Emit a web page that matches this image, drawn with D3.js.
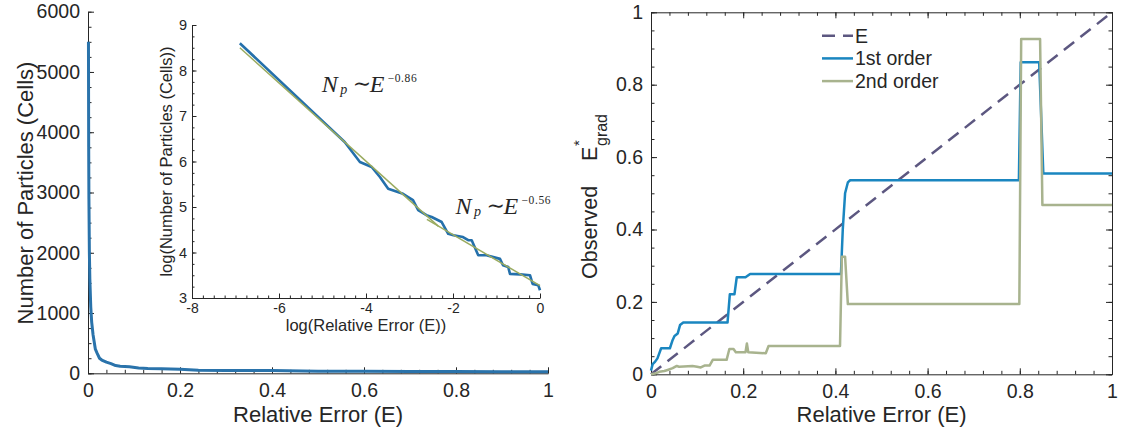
<!DOCTYPE html>
<html>
<head>
<meta charset="utf-8">
<script src="https://cdn.jsdelivr.net/npm/d3@7"></script>
<style>
  html, body { margin: 0; padding: 0; background: #fff; }
  svg { display: block; font-family: "Liberation Sans", Arial, Helvetica, sans-serif; }
  text { fill: #262626; }
</style>
</head>
<body>
<svg id="chart" width="1122" height="432"></svg>
<script>
// ---------------- DATA ----------------
// Left main panel: number of particles vs relative error
const mainE = [0.001, 0.0015, 0.002, 0.003, 0.004, 0.006, 0.008, 0.011, 0.016, 0.02, 0.025, 0.03, 0.04, 0.05, 0.06, 0.07, 0.09, 0.11, 0.13, 0.16, 0.2, 0.24, 0.3, 0.4, 0.5, 0.6, 0.7, 0.8, 0.9, 1.0];
const mainN = [5500, 3750, 2900, 2000, 1570, 1100, 850, 640, 400, 330, 250, 220, 185, 160, 128, 118, 108, 88, 80, 74, 67, 50, 47, 45, 35, 33, 30, 28, 27, 24];
const mainXTicks = [0, 0.2, 0.4, 0.6, 0.8, 1];
const mainYTicks = [0, 1000, 2000, 3000, 4000, 5000, 6000];

// Inset: log-log
const insetLogE = [-6.90, -4.49, -4.14, -3.87, -3.68, -3.49, -3.15, -2.92, -2.80, -2.61, -2.49, -2.26, -2.11, -1.99, -1.77, -1.65, -1.57, -1.42, -1.23, -0.92, -0.85, -0.73, -0.69, -0.46, -0.23, -0.17, -0.04, 0.0];
const insetLogN = [8.60, 6.43, 5.99, 5.88, 5.66, 5.40, 5.29, 5.15, 4.93, 4.82, 4.78, 4.67, 4.41, 4.38, 4.34, 4.27, 4.27, 3.94, 3.94, 3.86, 3.72, 3.68, 3.53, 3.52, 3.50, 3.31, 3.28, 3.17];
const fit1LogE = [-6.90, -2.34];
const fit1LogN = [8.50, 4.58];
const fit2LogE = [-2.60, 0.0];
const fit2LogN = [4.73, 3.27];
const insetXTicks = [-8, -6, -4, -2, 0];
const insetYTicks = [3, 4, 5, 6, 7, 8, 9];

// Right panel: observed gradient error
const refE = [0, 1];
const refV = [0, 1];
const firstE = [0, 0.0036, 0.009, 0.014, 0.022, 0.041, 0.047, 0.051, 0.058, 0.063, 0.07, 0.166, 0.171, 0.181, 0.186, 0.205, 0.215, 0.412, 0.416, 0.421, 0.427, 0.432, 0.798, 0.802, 0.842, 0.851, 1.0];
const firstV = [0.01, 0.028, 0.035, 0.044, 0.072, 0.072, 0.095, 0.106, 0.113, 0.136, 0.143, 0.143, 0.221, 0.221, 0.268, 0.268, 0.277, 0.277, 0.40, 0.50, 0.53, 0.536, 0.536, 0.862, 0.862, 0.555, 0.555];
const secondE = [0, 0.011, 0.018, 0.029, 0.036, 0.047, 0.056, 0.061, 0.09, 0.1, 0.108, 0.116, 0.127, 0.134, 0.164, 0.17, 0.179, 0.184, 0.205, 0.208, 0.211, 0.249, 0.255, 0.41, 0.414, 0.421, 0.427, 0.799, 0.803, 0.844, 0.849, 1.0];
const secondV = [0, 0.003, 0.007, 0.009, 0.012, 0.017, 0.023, 0.021, 0.023, 0.021, 0.019, 0.024, 0.024, 0.04, 0.04, 0.07, 0.07, 0.061, 0.061, 0.085, 0.061, 0.058, 0.078, 0.078, 0.325, 0.325, 0.194, 0.194, 0.926, 0.926, 0.468, 0.468];
const rightXTicks = [0, 0.2, 0.4, 0.6, 0.8, 1];
const rightYTicks = [0, 0.2, 0.4, 0.6, 0.8, 1];
const legendLabels = ["E", "1st order", "2nd order"];

// ---------------- HELPERS ----------------
const svg = d3.select("#chart");
const AX = "#262626";
const SANS = '"Liberation Sans", Arial, Helvetica, sans-serif';
const SERIF = '"Liberation Serif", "Times New Roman", "DejaVu Serif", serif';
const zip = (a, b) => a.map((v, i) => [v, b[i]]);
function range(a, b, s) { const out = []; for (let v = a; v <= b + 1e-9; v += s) out.push(+v.toFixed(6)); return out; }
function fmt(d) { return String(d); }

function styleAxis(g, fs) {
  g.select(".domain").attr("stroke", AX).attr("stroke-width", 1);
  g.selectAll(".tick line").attr("stroke", AX).attr("stroke-width", 1);
  g.selectAll(".tick text").style("font-size", fs + "px").style("font-family", SANS).attr("fill", AX);
}
function minor(g) {
  g.select(".domain").remove();
  g.selectAll(".tick line").attr("stroke", AX).attr("stroke-width", 1);
}
function label(sel, fs) { return sel.style("font-size", fs + "px").style("font-family", SANS); }

// ---------------- LEFT MAIN ----------------
const lx = d3.scaleLinear().domain([0, 1]).range([88, 548]);
const ly = d3.scaleLinear().domain([0, 6000]).range([373.3, 11.7]);

svg.append("g").attr("transform", "translate(0,373.3)")
  .call(d3.axisBottom(lx).tickValues(range(0, 1, 0.04)).tickSize(-3.5).tickFormat(""))
  .call(minor);
svg.append("g").attr("transform", "translate(88,0)")
  .call(d3.axisLeft(ly).tickValues(range(0, 6000, 250)).tickSize(-3.5).tickFormat(""))
  .call(minor);
svg.append("g").attr("transform", "translate(0,373.3)")
  .call(d3.axisBottom(lx).tickValues(mainXTicks).tickFormat(fmt).tickSizeInner(-6).tickSizeOuter(0).tickPadding(10))
  .call(g => styleAxis(g, 19.5));
svg.append("g").attr("transform", "translate(88,0)")
  .call(d3.axisLeft(ly).tickValues(mainYTicks).tickFormat(fmt).tickSizeInner(-6).tickSizeOuter(0).tickPadding(8))
  .call(g => styleAxis(g, 19.5));

svg.append("path").datum(zip(mainE, mainN))
  .attr("fill", "none").attr("stroke", "#2a73ab").attr("stroke-width", 3)
  .attr("stroke-linejoin", "round")
  .attr("d", d3.line().x(d => lx(d[0])).y(d => ly(d[1])));

label(svg.append("text").attr("x", 318).attr("y", 422).attr("text-anchor", "middle"), 22).text("Relative Error (E)");
label(svg.append("text").attr("transform", "translate(33,193) rotate(-90)").attr("text-anchor", "middle"), 22)
  .text("Number of Particles (Cells)");

// ---------------- INSET ----------------
const ix = d3.scaleLinear().domain([-8, 0]).range([192, 540]);
const iy = d3.scaleLinear().domain([3, 9]).range([298, 25]);

svg.append("g").attr("transform", "translate(0,298)")
  .call(d3.axisBottom(ix).tickValues(range(-8, 0, 0.25)).tickSize(-2.5).tickFormat(""))
  .call(minor);
svg.append("g").attr("transform", "translate(192,0)")
  .call(d3.axisLeft(iy).tickValues(range(3, 9, 0.25)).tickSize(-2.5).tickFormat(""))
  .call(minor);
svg.append("g").attr("transform", "translate(0,298)")
  .call(d3.axisBottom(ix).tickValues(insetXTicks).tickFormat(fmt).tickSizeInner(-4.5).tickSizeOuter(0).tickPadding(5))
  .call(g => styleAxis(g, 14));
svg.append("g").attr("transform", "translate(192,0)")
  .call(d3.axisLeft(iy).tickValues(insetYTicks).tickFormat(fmt).tickSizeInner(-4.5).tickSizeOuter(0).tickPadding(5))
  .call(g => styleAxis(g, 14.5));

const iline = d3.line().x(d => ix(d[0])).y(d => iy(d[1]));
svg.append("path").datum(zip(insetLogE, insetLogN))
  .attr("fill", "none").attr("stroke", "#2470ab").attr("stroke-width", 2.6)
  .attr("stroke-linejoin", "round").attr("d", iline);
svg.append("path").datum(zip(fit1LogE, fit1LogN))
  .attr("fill", "none").attr("stroke", "#9aab60").attr("stroke-width", 1.5).attr("d", iline);
svg.append("path").datum(zip(fit2LogE, fit2LogN))
  .attr("fill", "none").attr("stroke", "#9aab60").attr("stroke-width", 1.5).attr("d", iline);

label(svg.append("text").attr("x", 366).attr("y", 331).attr("text-anchor", "middle"), 16.5).text("log(Relative Error (E))");
label(svg.append("text").attr("transform", "translate(172,161.5) rotate(-90)").attr("text-anchor", "middle"), 16.5)
  .text("log(Number of Particles (Cells))");

function powerLaw(x0, y0, expo) {
  const g = svg.append("g");
  const t = (x, y, fs, italic, s, fam) => g.append("text").attr("x", x).attr("y", y)
    .style("font-family", fam || SERIF).style("font-size", fs + "px").style("font-style", italic ? "italic" : "normal")
    .attr("fill", "#111").text(s);
  t(x0, y0, 24, true, "N");
  t(x0 + 18.5, y0 + 2, 14, true, "p");
  t(x0 + 31, y0 - 1, 22, false, "\u223C", '"DejaVu Serif", serif');
  t(x0 + 48, y0, 24, true, "E");
  t(x0 + 66, y0 - 10.5, 11.5, false, expo).attr("letter-spacing", 0.6);
}
powerLaw(321.7, 92.3, "\u22120.86");
powerLaw(455.5, 214, "\u22120.56");

// ---------------- RIGHT ----------------
const rx = d3.scaleLinear().domain([0, 1]).range([651, 1112]);
const ry = d3.scaleLinear().domain([0, 1]).range([374.3, 12.3]);

// minor ticks on all four sides
svg.append("g").attr("transform", "translate(0,374.3)")
  .call(d3.axisBottom(rx).tickValues(range(0, 1, 0.04)).tickSize(-3.5).tickFormat("")).call(minor);
svg.append("g").attr("transform", "translate(0,12.3)")
  .call(d3.axisTop(rx).tickValues(range(0, 1, 0.04)).tickSize(-3.5).tickFormat("")).call(minor);
svg.append("g").attr("transform", "translate(651,0)")
  .call(d3.axisLeft(ry).tickValues(range(0, 1, 0.05)).tickSize(-3.5).tickFormat("")).call(minor);
svg.append("g").attr("transform", "translate(1112,0)")
  .call(d3.axisRight(ry).tickValues(range(0, 1, 0.05)).tickSize(-3.5).tickFormat("")).call(minor);
// major
svg.append("g").attr("transform", "translate(0,374.3)")
  .call(d3.axisBottom(rx).tickValues(rightXTicks).tickFormat(fmt).tickSizeInner(-6).tickSizeOuter(0).tickPadding(10))
  .call(g => styleAxis(g, 19.5));
svg.append("g").attr("transform", "translate(0,12.3)")
  .call(d3.axisTop(rx).tickValues(rightXTicks).tickFormat("").tickSizeInner(-6).tickSizeOuter(0))
  .call(g => styleAxis(g, 19.5));
svg.append("g").attr("transform", "translate(651,0)")
  .call(d3.axisLeft(ry).tickValues(rightYTicks).tickFormat(fmt).tickSizeInner(-6).tickSizeOuter(0).tickPadding(8))
  .call(g => styleAxis(g, 19.5));
svg.append("g").attr("transform", "translate(1112,0)")
  .call(d3.axisRight(ry).tickValues(rightYTicks).tickFormat("").tickSizeInner(-6).tickSizeOuter(0))
  .call(g => styleAxis(g, 19.5));

const rline = d3.line().x(d => rx(d[0])).y(d => ry(d[1]));
const series = [
  { e: refE, v: refV, color: "#5c5780", dash: "13,8" },
  { e: firstE, v: firstV, color: "#1a86c0", dash: null },
  { e: secondE, v: secondV, color: "#a8b38e", dash: null }
];
series.forEach(s => {
  svg.append("path").datum(zip(s.e, s.v))
    .attr("fill", "none").attr("stroke", s.color).attr("stroke-width", 2.5)
    .attr("stroke-linejoin", "round")
    .attr("stroke-dasharray", s.dash)
    .attr("d", rline);
});

// legend
const lg = svg.append("g");
series.forEach((s, i) => {
  const y = 35.7 + i * 22.7;
  lg.append("line").attr("x1", 822).attr("x2", 853).attr("y1", y).attr("y2", y)
    .attr("stroke", s.color).attr("stroke-width", 2.5).attr("stroke-dasharray", s.dash);
  label(lg.append("text").attr("x", 855).attr("y", y + 6.8), 19.5).text(legendLabels[i]);
});

label(svg.append("text").attr("x", 881.5).attr("y", 422).attr("text-anchor", "middle"), 22).text("Relative Error (E)");
const yl = svg.append("g").attr("transform", "translate(597,0) rotate(-90)");
label(yl.append("text").attr("x", -279).attr("y", 0), 21.5).text("Observed");
label(yl.append("text").attr("x", -161).attr("y", 0), 21.5).text("E");
label(yl.append("text").attr("x", -146).attr("y", -13), 15).text("*");
label(yl.append("text").attr("x", -146).attr("y", 10), 16).text("grad");
</script>
</body>
</html>
